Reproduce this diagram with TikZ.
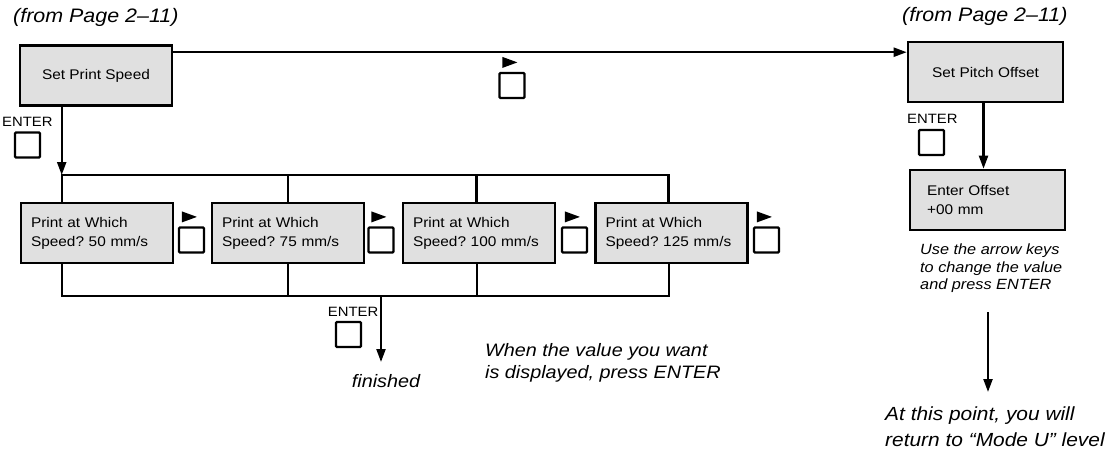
\documentclass[tikz,border=0pt]{standalone}
\usepackage{fontspec}
\setmainfont{Liberation Sans}[FakeStretch=1.1]
\usetikzlibrary{arrows.meta}
\newcommand\keytri[1]{\fill ([shift={(4,-15)}]#1.north west) -- ++(15,5.5) -- ++(-15,5.5) -- cycle;}
\frenchspacing
\begin{document}
\begin{tikzpicture}[x=1pt,y=-1pt,
  box/.style={draw, line width=2.6pt, fill=gray!24, inner sep=0pt, minimum height=60pt,
    font=\fontsize{14}{19}\selectfont},
  rowbox/.style={box, align=left, inner xsep=10pt, text width=132pt},
  key/.style={draw, line width=2.2pt, rounded corners=1pt, minimum size=25pt, inner sep=0pt},
  enter/.style={font=\fontsize{13.5}{14}\selectfont, inner sep=0pt},
  note/.style={font=\itshape\fontsize{18}{22}\selectfont, inner sep=0pt, align=left},
  small/.style={font=\itshape\fontsize{14.8}{17.5}\selectfont, inner sep=0pt, align=left},
  conn/.style={line width=2.2pt},
  arr/.style={conn, -{Triangle[length=13pt,width=9pt]}}
]
\useasboundingbox (0,0) rectangle (1118,455);

% headers
\node[note, font=\itshape\fontsize{19.5}{22}\selectfont, anchor=west] (from1) at (13,17) {(from Page 2--11)};
\node[note, font=\itshape\fontsize{19.5}{22}\selectfont, anchor=west] (from2) at (902,16) {(from Page 2--11)};

% main boxes
\node[box, minimum width=152pt] (sps) at (96,75.5) {Set Print Speed};
\node[box, minimum width=155pt] (spo) at (985.5,72) {Set Pitch Offset};
\node[box, align=left, inner xsep=17pt, text width=121pt] (eo) at (987.5,200) {Enter Offset\\+00 mm};

% top connector with key
\draw[arr] ([yshift=-8pt]sps.north east) -- ([yshift=-8pt]sps.north east -| spo.west);
\node[key] (km) at (512,85.5) {};
\keytri{km}

% ENTER under Set Print Speed
\node[enter, anchor=west] (en1) at (2,121.5) {ENTER};
\node[key] (ke1) at (27.5,145) {};
\coordinate (bt) at (0,175);
\coordinate (bb) at (0,296);
\draw[arr] ([xshift=43pt]sps.south west) -- ([xshift=43pt]sps.south west |- bt);

% speed boxes
\node[rowbox] (p1) at (97,233) {Print at Which\\Speed? 50 mm/s};
\node[rowbox] (p2) at (288,233) {Print at Which\\Speed? 75 mm/s};
\node[rowbox] (p3) at (479,233) {Print at Which\\Speed? 100 mm/s};
\node[rowbox] (p4) at (671.5,233) {Print at Which\\Speed? 125 mm/s};

% keys between boxes
\node[key] (k1) at (191.5,240) {};
\node[key] (k2) at (381,240) {};
\node[key] (k3) at (574.5,240) {};
\node[key] (k4) at (766.5,240) {};
\keytri{k1}\keytri{k2}\keytri{k3}\keytri{k4}

% top bracket
\draw[conn] ([xshift=42pt]p1.north west) -- ([xshift=42pt]p1.north west |- bt)
  -- ([xshift=-3pt]p4.north |- bt) -- ([xshift=-3pt]p4.north);
\draw[conn] (p2.north) -- (p2.north |- bt);
\draw[conn] ([xshift=-2.5pt]p3.north) -- ([xshift=-2.5pt]p3.north |- bt);

% bottom bracket
\draw[conn] ([xshift=42.5pt]p1.south west) -- ([xshift=42.5pt]p1.south west |- bb)
  -- ([xshift=-2.5pt]p4.south |- bb) -- ([xshift=-2.5pt]p4.south);
\draw[conn] (p2.south) -- (p2.south |- bb);
\draw[conn] ([xshift=-2pt]p3.south) -- ([xshift=-2pt]p3.south |- bb);

% ENTER -> finished
\coordinate (e2s) at (381,296);
\coordinate (e2e) at (381,362);
\draw[arr] (e2s) -- (e2e);
\node[enter, anchor=east] (en2) at (378.5,311.5) {ENTER};
\node[key] (ke2) at (348.5,334.5) {};
\node[note, anchor=center] (fin) at (386,381) {finished};

\node[note, anchor=north west] (when) at (485,343) {When the value you want\\is displayed, press ENTER};

% right column
\node[enter, anchor=west] (en3) at (907,119) {ENTER};
\node[key] (ke3) at (931.5,142.5) {};
\draw[arr] ([xshift=-2pt]spo.south) -- ([xshift=-2pt]spo.south |- eo.north);

\node[small, anchor=north west] (use) at (920,244) {Use the arrow keys\\to change the value\\and press ENTER};
\coordinate (a1) at (988,312);
\coordinate (a2) at (988,392);
\draw[arr] (a1) -- (a2);
\node[note, font=\itshape\fontsize{19}{26}\selectfont, anchor=north west] (atp) at (885,407) {At this point, you will\\return to “Mode U” level};
\end{tikzpicture}
\end{document}
